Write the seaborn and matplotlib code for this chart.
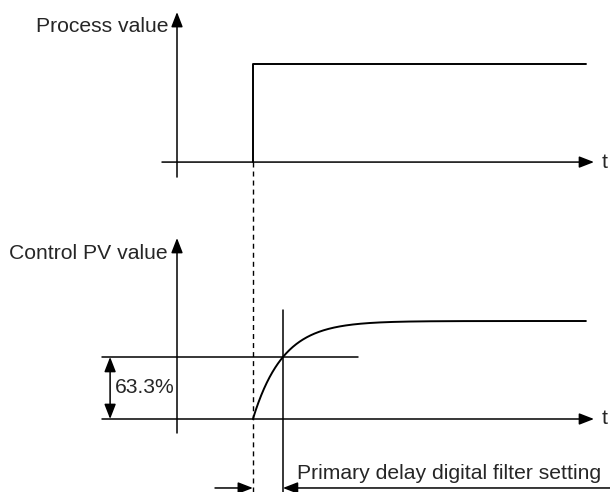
import numpy as np
import matplotlib
matplotlib.use("Agg")
import matplotlib.pyplot as plt
import seaborn as sns

# Timing of the input step and of the first-order lag filter (time units = time constant)
step_time = 2.53
filter_time_constant = 1.0
end_time = 13.63

# Input step levels (normalised process value)
step_times = [step_time, step_time, end_time]
step_levels = [0.0, 1.0, 1.0]

# Fraction of the final value reached after one time constant
threshold_fraction = 0.633
threshold_label = "63.3%"

top_title = "Process value"
bottom_title = "Control PV value"
axis_label = "t"
filter_label = "Primary delay digital filter setting"

sns.set_theme(style="white")
plt.rcParams["font.family"] = ["Liberation Sans", "DejaVu Sans"]
FONT = 15.2
INK = "black"

fig = plt.figure(figsize=(6.1, 4.92), dpi=100)
ax = fig.add_axes([0, 0, 1, 1])
ax.set_xlim(-5.9, 14.433)
ax.set_ylim(-0.745, 4.276)
ax.axis("off")

top_base = 2.622  # vertical offset of the upper panel


def arrow(x0, y0, x1, y1, style="-|>"):
    ax.annotate(
        "", xy=(x1, y1), xytext=(x0, y0),
        arrowprops=dict(arrowstyle=f"{style},head_length=0.9,head_width=0.35",
                        mutation_scale=10, lw=1.1, color=INK,
                        shrinkA=0, shrinkB=0),
    )


# --- upper panel: raw process value -------------------------------------
arrow(-0.5, top_base, 13.9, top_base)
arrow(0, top_base - 0.153, 0, top_base + 1.531)
sns.lineplot(x=step_times, y=top_base + np.array(step_levels), ax=ax,
             estimator=None, sort=False, color=INK, lw=1.4)
ax.text(-0.3, top_base + 1.38, top_title, ha="right", va="center", fontsize=FONT)
ax.text(14.15, top_base, axis_label, ha="left", va="center", fontsize=FONT)

# --- lower panel: filtered PV -------------------------------------------
arrow(-2.5, 0, 13.9, 0)
arrow(0, -0.143, 0, 1.847)

t = np.linspace(step_time, end_time, 600)
pv = 1.0 - np.exp(-(t - step_time) / filter_time_constant)
sns.lineplot(x=t, y=pv, ax=ax, estimator=None, sort=False, color=INK, lw=1.4)

tau_time = step_time + filter_time_constant
ax.plot([-2.5, 6.03], [threshold_fraction, threshold_fraction], color=INK, lw=1.1)
ax.plot([tau_time, tau_time], [-0.745, 1.112], color=INK, lw=1.1)
arrow(-2.23, 0, -2.23, threshold_fraction, style="<|-|>")
ax.text(-2.07, threshold_fraction / 2, threshold_label, ha="left", va="center",
        fontsize=FONT)
ax.text(-0.3, 1.694, bottom_title, ha="right", va="center", fontsize=FONT)
ax.text(14.15, 0, axis_label, ha="left", va="center", fontsize=FONT)

# step instant shared by both panels
ax.plot([step_time, step_time], [-0.745, top_base], color=INK, lw=1.0,
        linestyle=(0, (3.6, 2.9)))

# dimension arrows marking the filter time constant
dim_y = -0.704
arrow(1.267, dim_y, step_time, dim_y)
arrow(14.5, dim_y, tau_time, dim_y)
ax.text(4.0, -0.612, filter_label, ha="left", va="baseline", fontsize=FONT)

fig.savefig("out.png", dpi=100)
